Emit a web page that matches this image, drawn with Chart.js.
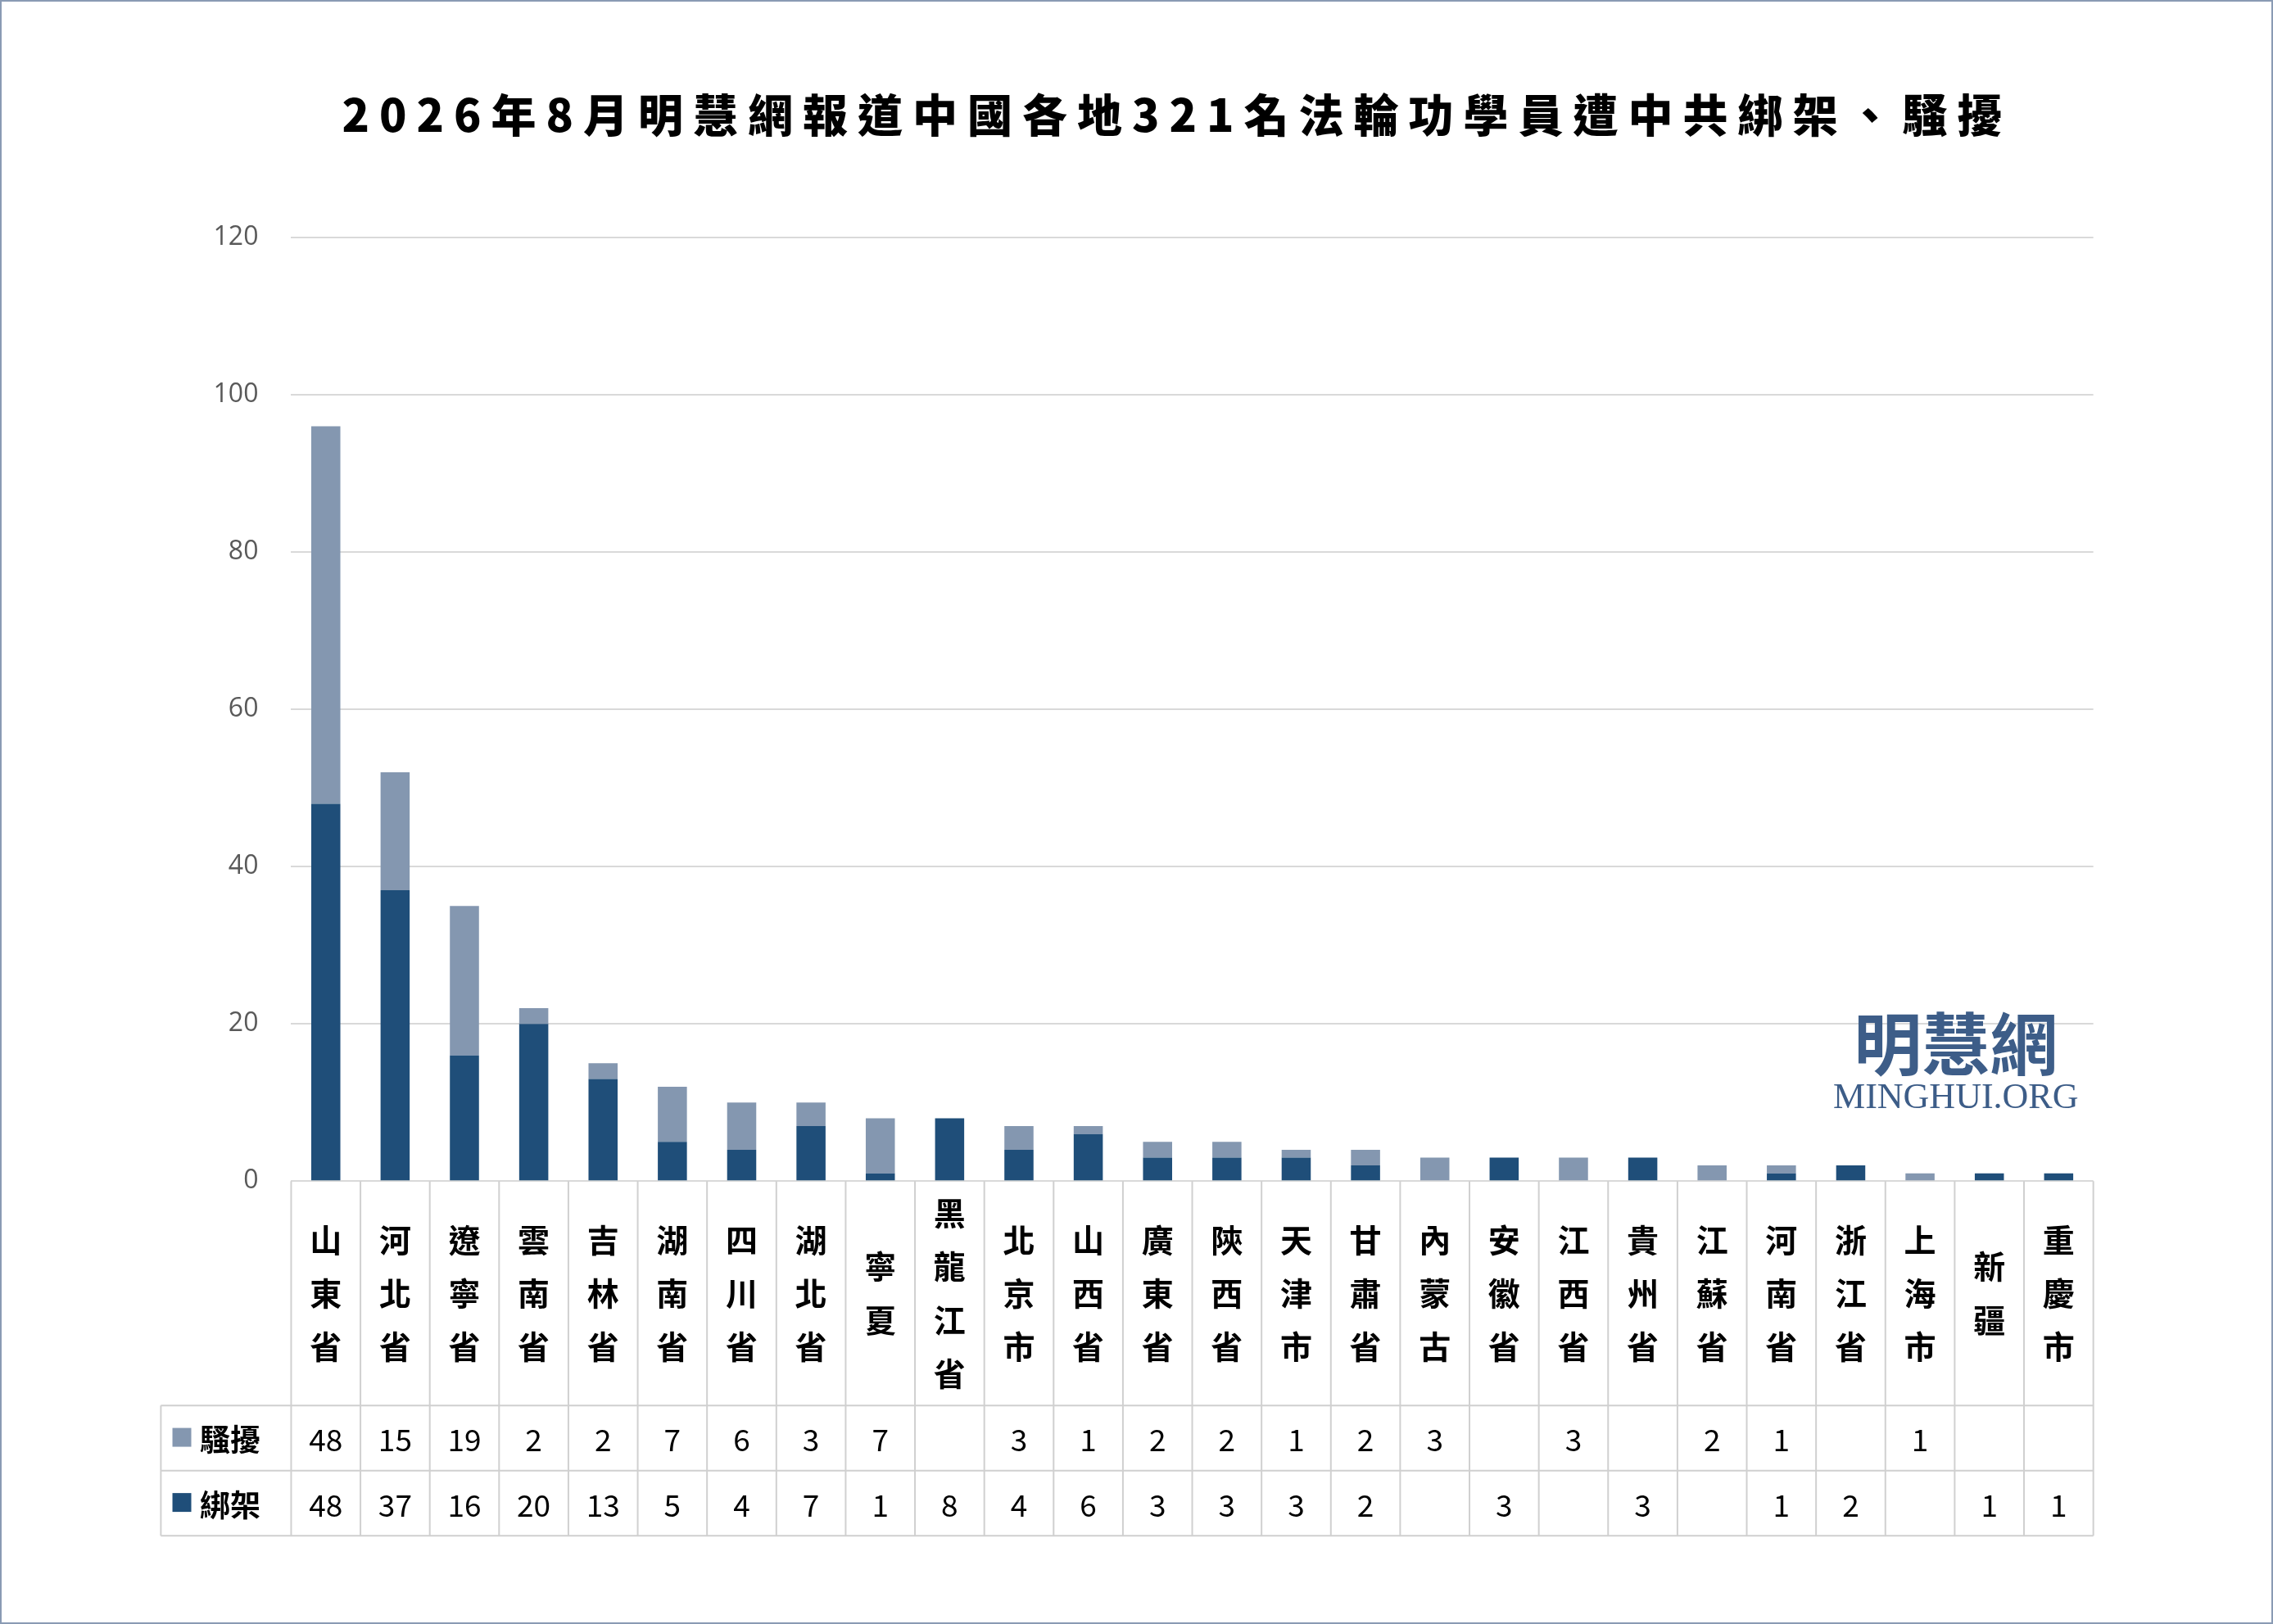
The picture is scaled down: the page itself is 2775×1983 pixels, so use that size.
<!DOCTYPE html>
<html><head><meta charset="utf-8">
<script src="https://cdn.jsdelivr.net/npm/chart.js@4/dist/chart.umd.min.js"></script>
<style>
html,body{margin:0;padding:0;background:#fff;}
#wrap{width:2771px;height:1979px;border:2px solid #8a9bb4;position:relative;}
canvas{display:block;}
</style></head><body>
<div id="wrap"><canvas id="c" width="2771" height="1979"></canvas></div>
<script>
const TITLE = "2026年8月明慧網報道中國各地321名法輪功學員遭中共綁架、騷擾";
const REGIONS = ["山東省","河北省","遼寧省","雲南省","吉林省","湖南省","四川省","湖北省","寧夏","黑龍江省",
  "北京市","山西省","廣東省","陝西省","天津市","甘肅省","內蒙古","安徽省","江西省","貴州省",
  "江蘇省","河南省","浙江省","上海市","新疆","重慶市"];
const HARASS = [48,15,19,2,2,7,6,3,7,null,3,1,2,2,1,2,3,null,3,null,2,1,null,1,null,null];
const KIDNAP = [48,37,16,20,13,5,4,7,1,8,4,6,3,3,3,2,null,3,null,3,null,1,2,null,1,1];
const Y_TICKS = [0,20,40,60,80,100,120];
const DARK = "#1f4e79", LIGHT = "#8497b0";
const S = 2771/1568;
const CJK = '"Noto Sans CJK TC", "Noto Sans CJK SC", sans-serif';

const tablePlugin = {
  id: "table",
  afterDraw(chart) {
    const ctx = chart.ctx, x = chart.scales.x, a = chart.chartArea;
    const w = (a.right - a.left) / REGIONS.length;
    const yTop = a.bottom, yR1 = 970*S, yR2 = 1015*S, yR3 = 1060*S, xL = 110*S;
    ctx.save();
    ctx.strokeStyle = "#d0d0d0"; ctx.lineWidth = 2;
    ctx.beginPath();
    for (let i = 0; i <= REGIONS.length; i++) {
      const xx = a.left + i*w;
      ctx.moveTo(xx, yTop); ctx.lineTo(xx, yR3);
    }
    ctx.moveTo(xL, yR1); ctx.lineTo(xL, yR3);
    [yR1, yR2, yR3].forEach(yy => { ctx.moveTo(xL, yy); ctx.lineTo(a.right, yy); });
    ctx.stroke();
    // category labels
    ctx.fillStyle = "#000"; ctx.textAlign = "center"; ctx.textBaseline = "middle";
    ctx.font = "bold " + Math.round(22*S) + "px " + CJK;
    const step = 37*S, mid = (yTop + yR1)/2;
    REGIONS.forEach((r, i) => {
      const cx = x.getPixelForValue(i);
      const chars = [...r];
      const y0 = mid - (chars.length-1)*step/2;
      chars.forEach((ch, j) => ctx.fillText(ch, cx, y0 + j*step));
    });
    // values
    ctx.font = Math.round(21*S) + "px " + CJK;
    const rows = [[HARASS, (yR1+yR2)/2], [KIDNAP, (yR2+yR3)/2]];
    rows.forEach(([arr, yy]) => arr.forEach((v, i) => {
      if (v !== null) ctx.fillText(String(v), x.getPixelForValue(i), yy + 2);
    }));
    // legend column
    ctx.textAlign = "left";
    ctx.font = "bold " + Math.round(21*S) + "px " + CJK;
    [["騷擾", LIGHT, (yR1+yR2)/2], ["綁架", DARK, (yR2+yR3)/2]].forEach(([t, c, yy]) => {
      ctx.fillStyle = c; ctx.fillRect(118*S, yy - 7*S, 13*S, 13*S);
      ctx.fillStyle = "#000"; ctx.fillText(t, 137*S, yy + 2);
    });
    // title
    ctx.textAlign = "center";
    ctx.font = "900 " + Math.round(31*S) + "px " + CJK;
    ctx.letterSpacing = Math.round(7*S) + "px";
    ctx.fillText(TITLE, 812*S, 78*S);
    ctx.letterSpacing = "0px";
    // watermark
    ctx.fillStyle = "#3d5d88";
    ctx.font = "bold " + Math.round(47*S) + "px " + CJK;
    ctx.fillText("明慧網", 1350*S, 720*S);
    ctx.font = Math.round(25*S) + "px 'Liberation Serif', serif";
    ctx.fillText("MINGHUI.ORG", 1350*S, 758*S);
    ctx.restore();
  }
};

new Chart(document.getElementById("c"), {
  type: "bar",
  data: {
    labels: REGIONS,
    datasets: [
      { label: "綁架", data: KIDNAP, backgroundColor: DARK, barPercentage: 0.42, categoryPercentage: 1 },
      { label: "騷擾", data: HARASS, backgroundColor: LIGHT, barPercentage: 0.42, categoryPercentage: 1 }
    ]
  },
  options: {
    responsive: false, animation: false,
    layout: { padding: { left: 200*S - 110, right: 1568*S - 1445*S, top: 163*S, bottom: 1979 - 815*S } },
    plugins: { legend: { display: false }, title: { display: false }, tooltip: { enabled: false } },
    scales: {
      x: { stacked: true, display: false },
      y: {
        stacked: true, min: 0, max: 120,
        afterFit(s) { s.width = 110; },
        afterBuildTicks(s) { s.ticks = Y_TICKS.map(v => ({ value: v })); },
        border: { display: false },
        grid: { color: "#d9d9d9", lineWidth: 2, drawTicks: false },
        ticks: { color: "#595959", padding: 40, font: { size: Math.round(18*S), family: "'Open Sans', sans-serif" } }
      }
    }
  },
  plugins: [tablePlugin]
});
</script>
</body></html>
